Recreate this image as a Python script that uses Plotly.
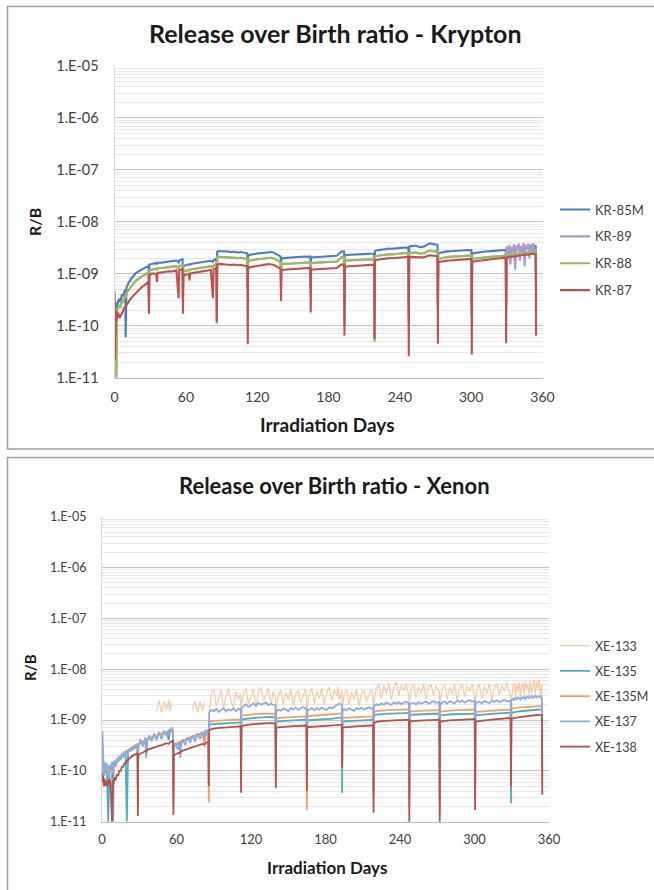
import plotly.graph_objects as go

# ---------------- data (values in units of 1e-11) ----------------
days = [0, 0.3, 1, 1.5, 2, 3, 4, 5, 6, 7, 8, 9, 9.3, 10, 11, 12, 13, 14, 15, 16, 17, 18, 19, 20, 21, 22, 23, 24, 25, 26, 27, 28, 28.6, 28.9,
        29.2, 31, 33, 35, 35.6, 36.2, 38, 40, 42, 44, 46, 48, 50, 52, 53.8, 54.4, 56, 57.2, 57.5,
        57.8, 59, 61, 62.5, 63, 63.5, 65, 67, 69, 71, 73, 75, 77, 79, 81, 82.7, 83.3, 85, 85.7, 86,
        86.3, 88, 90, 92, 94, 96, 98, 100, 102, 104, 106, 108, 110, 111.7, 112,
        112.3, 114, 116, 118, 120, 122, 124, 126, 128, 130, 132, 134, 136, 138, 139.7, 140,
        140.3, 142, 144, 146, 148, 150, 152, 154, 156, 158, 160, 162, 164, 164.7, 165,
        165.3, 167, 169, 171, 173, 175, 177, 179, 181, 183, 185, 187, 189, 190, 191, 193.1, 193.4,
        193.7, 195, 197, 199, 201, 203, 205, 207, 209, 211, 213, 215, 217, 218.4, 218.7,
        219, 221, 223, 225, 227, 229, 231, 233, 235, 237, 239, 241, 243, 245, 247.2, 247.5,
        247.8, 249, 251, 253, 255, 257, 259, 261, 263, 265, 267, 269, 271.7, 272,
        272.3, 274, 276, 278, 280, 282, 284, 286, 288, 290, 292, 294, 296, 298, 300.2, 300.5,
        300.8, 302, 304, 306, 308, 310, 312, 314, 316, 318, 320, 322, 324, 326, 329.1, 329.4,
        329.7, 331, 332, 333, 334, 335, 336, 337, 338, 339, 340, 341, 342, 343, 344, 345, 346, 347, 348, 349, 350, 351, 352, 353, 354.3, 354.6]

kr_85m = [25, 18, 15, 28, 22, 30, 33, 28, 40, 37, 46, 50, 6, 55, 60, 70, 72, 82, 85, 93, 98, 104, 106, 112, 115, 120, 123, 126, 130, 133, 136, 140, 142, 35,
          150, 155, 158, 160, 156, 162, 165, 163, 168, 170, 172, 170, 175, 180, 165, 182, 186, 190, 45,
          140, 145, 150, 152, 148, 153, 156, 158, 160, 163, 166, 168, 172, 175, 178, 170, 182, 190, 195, 30,
          265, 275, 270, 268, 272, 265, 262, 266, 260, 258, 262, 255, 250, 248, 70,
          225, 232, 238, 240, 245, 248, 252, 258, 262, 265, 262, 255, 240, 225, 215, 80,
          198, 200, 202, 198, 200, 203, 205, 207, 210, 212, 215, 213, 215, 216, 55,
          205, 208, 210, 212, 210, 213, 215, 214, 216, 218, 220, 222, 245, 265, 270, 268, 25,
          225, 230, 232, 235, 233, 236, 238, 240, 238, 240, 242, 243, 245, 245, 20,
          275, 285, 290, 295, 298, 300, 305, 303, 308, 310, 312, 315, 318, 320, 322, 15,
          330, 345, 340, 350, 335, 325, 330, 340, 365, 385, 380, 370, 360, 25,
          245, 255, 262, 268, 270, 272, 275, 278, 280, 282, 285, 283, 286, 288, 285, 20,
          245, 250, 255, 258, 262, 265, 268, 270, 272, 275, 278, 280, 283, 285, 288, 25,
          295, 300, 305, 302, 308, 310, 306, 312, 315, 318, 314, 320, 322, 325, 320, 328, 330, 335, 332, 338, 340, 345, 342, 348, 340, 40]

kr_89 = [30, 20, 12, 1, 20, 22, 25, 22, 30, 28, 36, 38, 34, 43, 46, 50, 55, 58, 62, 66, 70, 73, 77, 80, 83, 86, 89, 92, 95, 98, 100, 104, 106, 25,
         115, 120, 123, 125, 118, 127, 129, 128, 131, 133, 135, 134, 137, 140, 128, 142, 145, 148, 30,
         110, 113, 117, 119, 114, 120, 122, 124, 126, 128, 130, 132, 135, 137, 140, 132, 143, 148, 152, 11,
         205, 212, 210, 208, 211, 205, 203, 206, 202, 200, 203, 198, 195, 193, 50,
         175, 180, 185, 187, 190, 193, 196, 200, 204, 206, 204, 198, 187, 175, 168, 50,
         155, 156, 158, 155, 156, 158, 160, 162, 164, 165, 167, 166, 168, 168, 40,
         160, 162, 163, 165, 164, 166, 168, 167, 168, 170, 172, 173, 190, 205, 210, 208, 10,
         175, 180, 181, 183, 182, 184, 186, 187, 186, 187, 189, 190, 191, 191, 5,
         215, 222, 226, 230, 232, 234, 238, 236, 240, 242, 243, 246, 248, 250, 251, 12,
         245, 255, 252, 258, 250, 245, 248, 252, 268, 280, 276, 270, 265, 20,
         190, 198, 204, 208, 210, 212, 214, 216, 218, 220, 222, 220, 223, 224, 222, 15,
         190, 195, 198, 201, 204, 206, 208, 210, 212, 214, 216, 218, 220, 222, 224, 20,
         340, 200, 360, 150, 330, 260, 370, 120, 350, 280, 380, 180, 340, 250, 390, 140, 360, 300, 380, 200, 370, 260, 390, 230, 300, 30]

kr_88 = [30, 20, 12, 1, 20, 22, 25, 22, 30, 28, 36, 38, 34, 43, 46, 50, 55, 58, 62, 66, 70, 73, 77, 80, 83, 86, 89, 92, 95, 98, 100, 104, 106, 25,
         115, 120, 123, 125, 118, 127, 129, 128, 131, 133, 135, 134, 137, 140, 128, 142, 145, 148, 30,
         110, 113, 117, 119, 114, 120, 122, 124, 126, 128, 130, 132, 135, 137, 140, 132, 143, 148, 152, 11,
         205, 212, 210, 208, 211, 205, 203, 206, 202, 200, 203, 198, 195, 193, 50,
         175, 180, 185, 187, 190, 193, 196, 200, 204, 206, 204, 198, 187, 175, 168, 50,
         155, 156, 158, 155, 156, 158, 160, 162, 164, 165, 167, 166, 168, 168, 40,
         160, 162, 163, 165, 164, 166, 168, 167, 168, 170, 172, 173, 190, 205, 210, 208, 10,
         175, 180, 181, 183, 182, 184, 186, 187, 186, 187, 189, 190, 191, 191, 5,
         215, 222, 226, 230, 232, 234, 238, 236, 240, 242, 243, 246, 248, 250, 251, 12,
         245, 255, 252, 258, 250, 245, 248, 252, 268, 280, 276, 270, 265, 20,
         190, 198, 204, 208, 210, 212, 214, 216, 218, 220, 222, 220, 223, 224, 222, 15,
         190, 195, 198, 201, 204, 206, 208, 210, 212, 214, 216, 218, 220, 222, 224, 20,
         230, 233, 236, 234, 238, 240, 237, 242, 244, 246, 243, 248, 250, 252, 248, 254, 256, 258, 256, 260, 262, 265, 263, 266, 262, 30]

kr_87 = [46, 2.2, 20, 12, 15, 18, 14, 16, 17, 19, 22, 23, 24, 25, 27, 30, 32, 34, 36, 38, 41, 43, 46, 48, 51, 53, 56, 58, 60, 63, 65, 68, 70, 17,
         95, 100, 102, 98, 70, 104, 106, 105, 108, 110, 112, 111, 114, 117, 34, 118, 121, 124, 17,
         92, 95, 98, 100, 75, 101, 103, 105, 107, 109, 111, 113, 115, 117, 119, 34, 121, 125, 128, 12,
         150, 155, 153, 152, 154, 150, 148, 151, 148, 146, 148, 145, 142, 140, 4.4,
         130, 134, 137, 139, 142, 144, 146, 150, 152, 154, 152, 148, 140, 132, 125, 30,
         118, 120, 121, 119, 120, 122, 123, 125, 126, 127, 129, 128, 130, 130, 18,
         120, 121, 122, 123, 122, 124, 125, 124, 126, 127, 128, 129, 142, 150, 152, 150, 6.5,
         135, 138, 139, 141, 140, 142, 144, 145, 144, 145, 147, 148, 149, 150, 5.6,
         180, 186, 190, 193, 195, 197, 200, 199, 202, 204, 205, 207, 209, 211, 212, 2.6,
         205, 212, 210, 215, 208, 205, 207, 210, 220, 228, 225, 222, 218, 4.5,
         165, 170, 174, 177, 179, 180, 182, 184, 186, 187, 189, 188, 190, 192, 190, 2.8,
         168, 172, 175, 178, 180, 183, 185, 187, 189, 192, 195, 197, 200, 202, 205, 4.6,
         205, 208, 212, 210, 214, 216, 213, 218, 220, 222, 219, 224, 226, 228, 225, 230, 232, 235, 233, 238, 240, 243, 241, 245, 240, 6.5]

N = None
xe_133 = [N] * 34 + \
         [N, N, N, N, N, N, N, N, N, 150, 240, 140, 230, 160, 250, 150, 220, N, N] + \
         [N, N, N, N, N, N, N, N, N, N, 160, 240, 140, 230, 150, 220, N, N, N, 2.3] + \
         [150, 320, 410, 190, 260, 380, 170, 300, 420, 220, 180, 360, 260, 330, 15,
          190, 340, 430, 210, 280, 400, 180, 350, 440, 240, 300, 420, 200, 370, 260, 20,
          170, 300, 390, 200, 350, 250, 410, 190, 330, 380, 220, 300, 400, 250, 10,
          180, 330, 420, 210, 370, 260, 430, 200, 350, 450, 240, 390, 300, 460, 250, 380, 30,
          170, 320, 400, 200, 360, 250, 410, 190, 340, 390, 230, 310, 400, 260, 15,
          230, 420, 520, 260, 470, 330, 540, 250, 450, 560, 300, 490, 380, 530, 280, 5,
          240, 430, 500, 270, 460, 320, 510, 260, 440, 490, 300, 470, 350, 5,
          220, 410, 490, 260, 450, 320, 510, 250, 430, 500, 290, 470, 360, 520, 280, 10,
          220, 420, 500, 260, 460, 330, 520, 250, 440, 510, 300, 480, 370, 530, 290, 10,
          240, 450, 530, 290, 500, 360, 560, 280, 470, 540, 320, 590, 400, 510, 300, 600, 350, 480, 620, 330, 560, 420, 640, 310, 500, 20]

xe_135 = [10, 25, 15, 8, 12, 9, 11, 1, 10, 12, 11, 1, 12, 13, 14, 15, 16, 18, 17, 20, 19, 22, 21, 1, 24, 25, 27, 26, 29, 28, 31, 32, 33, 5,
          32, 35, 37, 40, 20, 41, 43, 45, 47, 49, 51, 53, 55, 58, 40, 59, 62, 64, 4,
          30, 32, 34, 36, 22, 37, 39, 41, 43, 45, 47, 49, 51, 53, 56, 45, 58, 61, 63, 6,
          80, 82, 83, 84, 85, 85, 86, 86, 87, 88, 88, 89, 90, 90, 8,
          100, 104, 106, 108, 109, 110, 111, 112, 113, 114, 114, 115, 115, 114, 113, 10,
          92, 94, 95, 96, 97, 98, 98, 99, 100, 100, 101, 101, 102, 102, 8,
          98, 99, 100, 101, 102, 102, 103, 103, 104, 105, 105, 106, 108, 110, 112, 112, 3.7,
          92, 94, 95, 96, 97, 97, 98, 98, 99, 99, 100, 100, 101, 101, 4,
          125, 128, 130, 131, 132, 133, 134, 134, 135, 135, 136, 136, 137, 137, 138, 3,
          125, 127, 128, 129, 130, 130, 131, 131, 132, 132, 133, 133, 134, 2,
          122, 125, 127, 128, 129, 130, 130, 131, 131, 132, 132, 133, 133, 134, 134, 4,
          122, 125, 127, 128, 129, 130, 131, 132, 133, 134, 135, 136, 137, 138, 140, 2.3,
          140, 142, 144, 145, 146, 147, 148, 149, 150, 151, 152, 153, 154, 155, 156, 157, 158, 159, 160, 161, 162, 162, 161, 160, 158, 8]

xe_135m = [12, 9, 11, 10, 12, 11, 10, 9, 11, 10, 9, 11, 11, 12, 13, 14, 15, 17, 18, 19, 21, 22, 23, 25, 26, 27, 28, 29, 30, 31, 32, 33, 34, 2,
           33, 36, 38, 40, 38, 42, 44, 46, 48, 50, 52, 54, 56, 58, 55, 60, 62, 64, 2,
           31, 33, 35, 37, 35, 38, 40, 42, 44, 46, 48, 50, 52, 54, 56, 30, 58, 60, 62, 2.5,
           92, 95, 96, 97, 98, 98, 99, 100, 100, 101, 101, 102, 102, 103, 6,
           120, 124, 126, 128, 129, 130, 131, 132, 133, 134, 134, 135, 135, 134, 133, 7,
           108, 110, 111, 112, 113, 113, 114, 115, 115, 116, 116, 117, 117, 118, 1.7,
           118, 120, 121, 122, 123, 124, 124, 125, 126, 127, 127, 128, 130, 133, 135, 135, 11,
           108, 110, 111, 112, 113, 113, 114, 115, 115, 116, 116, 117, 117, 118, 3,
           145, 150, 152, 154, 155, 156, 157, 158, 158, 159, 160, 160, 161, 162, 162, 2,
           145, 148, 150, 151, 152, 152, 153, 154, 154, 155, 155, 156, 156, 1.5,
           145, 148, 150, 152, 153, 154, 155, 156, 157, 158, 158, 159, 160, 160, 161, 3,
           142, 145, 147, 149, 150, 151, 152, 153, 154, 155, 156, 157, 158, 159, 160, 6,
           168, 170, 172, 173, 174, 175, 176, 177, 178, 179, 180, 181, 182, 183, 184, 185, 186, 187, 188, 189, 190, 190, 189, 188, 186, 6]

xe_137 = [12, 60, 20, 8, 15, 10, 14, 9, 13, 11, 15, 10, 14, 16, 12, 18, 15, 20, 17, 22, 19, 24, 21, 26, 22, 27, 24, 29, 26, 31, 28, 33, 30, 15,
          28, 42, 30, 46, 18, 36, 50, 38, 54, 40, 58, 42, 62, 48, 66, 50, 72, 56, 10,
          24, 36, 26, 38, 18, 30, 42, 32, 46, 36, 50, 38, 54, 42, 58, 46, 64, 50, 66, 10,
          140, 158, 150, 166, 143, 160, 170, 148, 163, 155, 172, 150, 166, 160, 30,
          172, 190, 205, 182, 198, 212, 188, 218, 200, 208, 222, 196, 210, 200, 192, 40,
          146, 160, 152, 170, 158, 150, 172, 162, 176, 158, 170, 180, 166, 174, 30,
          150, 162, 170, 155, 172, 160, 176, 165, 158, 178, 168, 180, 192, 206, 212, 200, 25,
          150, 164, 156, 170, 160, 152, 172, 164, 176, 160, 170, 178, 166, 172, 20,
          188, 204, 196, 214, 200, 220, 206, 198, 222, 210, 226, 204, 220, 230, 212, 15,
          196, 212, 220, 202, 226, 210, 222, 232, 208, 226, 236, 218, 228, 12,
          202, 220, 232, 210, 236, 222, 214, 240, 226, 244, 220, 236, 248, 230, 240, 20,
          202, 222, 230, 212, 238, 224, 216, 242, 228, 246, 222, 238, 250, 232, 244, 30,
          242, 262, 250, 272, 258, 280, 262, 252, 278, 268, 288, 260, 282, 292, 270, 286, 296, 272, 290, 300, 278, 296, 286, 292, 262, 40]

xe_138 = [9, 6, 8, 5, 7, 5, 6.5, 5, 7, 5.5, 1, 6.5, 5.5, 7.5, 6.5, 8.5, 8, 10, 10, 12, 12, 14, 14, 16, 16, 18, 18, 20, 19.5, 21, 21, 22, 22, 1.3,
          20, 22, 23, 25, 24, 26, 27, 28, 29, 30, 31, 32, 33, 35, 34, 36, 38, 40, 1.35,
          20, 21, 22, 23, 22, 24, 25, 26, 27, 28, 29, 30, 31, 32, 34, 33, 35, 37, 38, 5,
          62, 66, 68, 69, 70, 70, 71, 72, 72, 73, 73, 74, 74, 75, 3.7,
          75, 78, 80, 81, 82, 83, 84, 85, 85, 86, 86, 87, 87, 86, 85, 4.6,
          70, 72, 73, 74, 74, 75, 75, 76, 76, 77, 77, 77, 78, 78, 4,
          72, 73, 74, 74, 75, 75, 76, 76, 77, 77, 78, 78, 79, 80, 81, 81, 11.5,
          70, 72, 73, 74, 74, 75, 75, 76, 76, 77, 77, 78, 78, 78, 1.5,
          88, 92, 94, 95, 96, 97, 98, 98, 99, 99, 100, 100, 101, 101, 102, 0.9,
          92, 95, 96, 97, 98, 98, 99, 99, 100, 100, 101, 101, 102, 0.9,
          92, 95, 97, 98, 99, 100, 100, 101, 101, 102, 102, 103, 103, 104, 104, 1.7,
          90, 94, 96, 98, 99, 100, 101, 102, 103, 104, 105, 106, 107, 108, 110, 5,
          105, 108, 110, 111, 112, 113, 114, 115, 116, 117, 118, 119, 120, 121, 122, 123, 124, 125, 126, 127, 128, 128, 127, 126, 125, 3.4]

UNIT = 1e-11
decades = [1e-11, 1e-10, 1e-9, 1e-8, 1e-7, 1e-6, 1e-5]
decade_labels = ["1.E-11", "1.E-10", "1.E-09", "1.E-08", "1.E-07", "1.E-06", "1.E-05"]
x_ticks = [0, 60, 120, 180, 240, 300, 360]

krypton = [("KR-85M", kr_85m, "#4A7EC4"), ("KR-89", kr_89, "#A99BCB"),
           ("KR-88", kr_88, "#9BBB59"), ("KR-87", kr_87, "#C0504D")]
xenon = [("XE-133", xe_133, "#F9C9A0"), ("XE-135", xe_135, "#4BACC6"),
         ("XE-135M", xe_135m, "#F2A15F"), ("XE-137", xe_137, "#8FAADC"),
         ("XE-138", xe_138, "#B8504B")]

lengths = {name: len(v) for name, v, _ in krypton + xenon}
if any(l != len(days) for l in lengths.values()):
    raise ValueError(f"days={len(days)} {lengths}")


def scaled(vals):
    return [None if v is None else v * UNIT for v in vals]


fig = go.Figure()
for name, vals, color in krypton:
    fig.add_trace(go.Scatter(x=days, y=scaled(vals), name=name, mode="lines",
                             line=dict(color=color, width=2.1), xaxis="x", yaxis="y",
                             legend="legend", legendgroup=name))
for name, vals, color in xenon:
    fig.add_trace(go.Scatter(x=days, y=scaled(vals), name=name, mode="lines",
                             line=dict(color=color, width=1.2 if name == "XE-133" else 1.8),
                             xaxis="x2", yaxis="y2", legend="legend2", legendgroup=name,
                             connectgaps=False))

minor_vals = [m * d for d in decades[:-1] for m in range(2, 10)]
FONT = "Lato"
TXT = "#404040"


def yax(domain, anchor, size):
    return dict(domain=domain, anchor=anchor, type="log", range=[-11, -5],
                tickvals=decades, ticktext=decade_labels, showgrid=True,
                gridcolor="#C4C4C4", gridwidth=1, zeroline=False, automargin=False,
                minor=dict(tickvals=minor_vals, showgrid=True, gridcolor="#E8E8E8", gridwidth=1, ticks=""),
                showline=True, linecolor="#D9D9D9", linewidth=1, ticks="",
                ticklabelstandoff=12, tickfont=dict(family=FONT, size=size, color=TXT))


def xax(domain, anchor, size):
    return dict(domain=domain, anchor=anchor, range=[0, 360], tickvals=x_ticks,
                showgrid=False, zeroline=False, showline=True, linecolor="#BFBFBF",
                linewidth=1, ticks="", ticklabelstandoff=6, automargin=False,
                tickfont=dict(family=FONT, size=size, color=TXT))


W, H = 654, 890


def py(p):
    return 1 - p / H


fig.update_layout(
    width=W, height=H, margin=dict(l=0, r=0, t=0, b=0, autoexpand=False),
    paper_bgcolor="white", plot_bgcolor="white",
    xaxis=xax([114.6 / W, 542.5 / W], "y", 14),
    yaxis=yax([py(377.7), py(66)], "x", 14.5),
    xaxis2=xax([102 / W, 549 / W], "y2", 13),
    yaxis2=yax([py(821.7), py(516.7)], "x2", 12.5),
    legend=dict(x=555 / W, y=py(250), xanchor="left", yanchor="middle",
                font=dict(family=FONT, size=13, color=TXT), bgcolor="rgba(0,0,0,0)",
                tracegroupgap=7, itemwidth=30),
    legend2=dict(x=555 / W, y=py(696.5), xanchor="left", yanchor="middle",
                 font=dict(family=FONT, size=12.5, color=TXT), bgcolor="rgba(0,0,0,0)",
                 tracegroupgap=6, itemwidth=30),
    showlegend=True,
)

ann = [
    ("Release over Birth ratio - Krypton", 335, 33, 25, 0),
    ("R/B", 34, 222, 16, -90),
    ("Irradiation Days", 328, 425, 19, 0),
    ("Release over Birth ratio - Xenon", 334, 485, 22, 0),
    ("R/B", 30, 668, 15, -90),
    ("Irradiation Days", 327, 867, 17, 0),
]
for text, x, y, size, ang in ann:
    fig.add_annotation(text=text, x=x / W, y=py(y), xref="paper", yref="paper",
                       showarrow=False, textangle=ang, xanchor="center", yanchor="middle",
                       font=dict(family=FONT, size=size, color="#1A1A1A", weight="bold"))

for y0, y1 in [(6.5, 449), (457.5, 900)]:
    fig.add_shape(type="rect", xref="paper", yref="paper", x0=7.5 / W, x1=1.05,
                  y0=py(y1), y1=py(y0), line=dict(color="#A0A0A0", width=1.5),
                  fillcolor="rgba(0,0,0,0)", layer="below")

fig.write_html("out.html", config={"displayModeBar": False},
               post_script="document.body.style.margin='0px';document.body.style.padding='0px';")
